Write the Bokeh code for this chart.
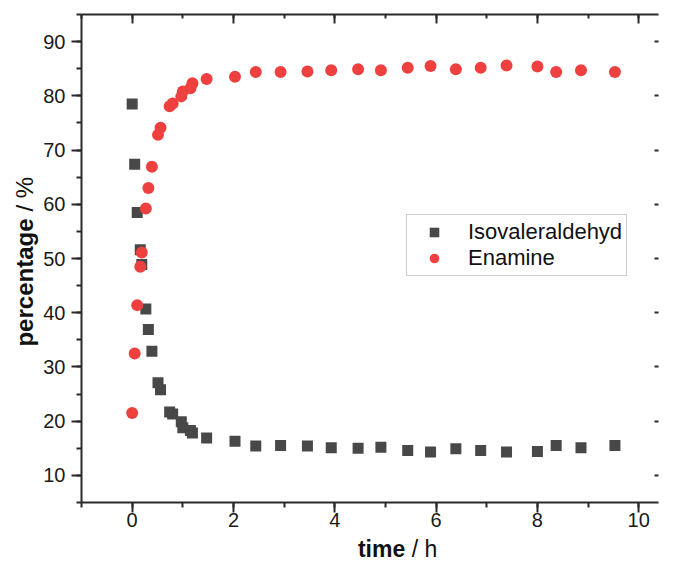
import math
from bokeh.plotting import figure
from bokeh.layouts import row, column
from bokeh.models import (Range1d, LinearAxis, SingleIntervalTicker, Label,
                          ColumnDataSource, Legend, LegendItem, CustomLabelingPolicy)
from bokeh.embed import file_html
from bokeh.resources import INLINE

# ---- data ----
time_h = [0.0, 0.05, 0.10, 0.16, 0.19, 0.27, 0.32, 0.39, 0.51, 0.56, 0.74, 0.80,
          0.97, 1.00, 1.15, 1.19, 1.47, 2.03, 2.44, 2.93, 3.46, 3.93, 4.46, 4.91,
          5.44, 5.89, 6.39, 6.88, 7.39, 8.00, 8.37, 8.86, 9.53]
isovaleraldehyd = [78.5, 67.4, 58.5, 51.6, 48.9, 40.7, 36.9, 32.9, 27.1, 25.8, 21.7, 21.3,
                   19.9, 18.8, 18.3, 17.8, 16.9, 16.3, 15.4, 15.5, 15.4, 15.1, 15.0, 15.2,
                   14.6, 14.3, 14.9, 14.6, 14.3, 14.4, 15.5, 15.1, 15.5]
enamine = [21.5, 32.5, 41.4, 48.5, 51.1, 59.2, 63.0, 66.9, 72.8, 74.1, 78.1, 78.6,
           79.9, 80.8, 81.4, 82.3, 83.1, 83.5, 84.4, 84.4, 84.5, 84.7, 84.9, 84.7,
           85.2, 85.5, 84.9, 85.2, 85.6, 85.4, 84.4, 84.7, 84.4]
series_names = ["Isovaleraldehyd", "Enamine"]
x_title_bold, x_title_rest = "time", "/ h"
y_title_bold, y_title_rest = "percentage", "/ %"

FONT = "Liberation Sans"
AX = "#2a2a2a"
TXT = "#111111"

YT_W = 40            # width of the strip holding the y title
MAIN_W, MAIN_H = 622, 535
XT_H = 27            # height of the strip holding the x title
TOTAL_H = MAIN_H + XT_H

p = figure(width=MAIN_W, height=MAIN_H, output_backend="svg", toolbar_location=None,
           x_range=Range1d(-1, 10.39), y_range=Range1d(5, 95),
           x_axis_location=None, y_axis_location=None,
           min_border_left=40, min_border_right=2, min_border_top=14,
           min_border_bottom=33)
p.outline_line_color = None
p.xgrid.visible = False
p.ygrid.visible = False
p.background_fill_color = "white"
p.border_fill_color = "white"

def make_axis(ticker, **kw):
    ax = LinearAxis(ticker=ticker)
    ax.axis_line_color = AX
    ax.axis_line_width = 2
    ax.major_tick_line_color = AX
    ax.minor_tick_line_color = AX
    ax.major_tick_line_width = 2
    ax.minor_tick_line_width = 2
    ax.major_label_text_font = FONT
    ax.major_label_text_font_size = "20px"
    ax.major_label_text_color = "#1a1a1a"
    for k, v in kw.items():
        setattr(ax, k, v)
    return ax

xt = lambda: SingleIntervalTicker(interval=2, num_minor_ticks=2)
yt = lambda: SingleIntervalTicker(interval=10, num_minor_ticks=2)
no_labels = lambda: CustomLabelingPolicy(code="return []")

bottom = make_axis(xt(), major_tick_out=10, major_tick_in=0,
                   minor_tick_out=5, minor_tick_in=0, major_label_standoff=0)
left = make_axis(yt(), major_tick_out=10, major_tick_in=0,
                 minor_tick_out=5, minor_tick_in=0, major_label_standoff=6)
top = make_axis(xt(), major_tick_out=0, major_tick_in=9,
                minor_tick_out=0, minor_tick_in=4, major_label_standoff=0,
                major_label_text_font_size="1px", major_label_policy=no_labels())
right = make_axis(yt(), major_tick_out=0, major_tick_in=4,
                  minor_tick_out=0, minor_tick_in=0, major_label_standoff=0,
                  major_label_text_font_size="1px", major_label_policy=no_labels(),
                  axis_line_color=None)
p.add_layout(bottom, "below")
p.add_layout(left, "left")
p.add_layout(top, "above")
p.add_layout(right, "right")

src = ColumnDataSource(dict(t=time_h, iso=isovaleraldehyd, ena=enamine))
r1 = p.scatter("t", "iso", source=src, marker="square", size=11,
               fill_color="#484848", line_color=None)
r2 = p.scatter("t", "ena", source=src, marker="circle", size=12,
               fill_color="#ef4040", line_color=None)

legend = Legend(items=[LegendItem(label=series_names[0], renderers=[r1]),
                       LegendItem(label=series_names[1], renderers=[r2])],
                location=(325, 226), orientation="vertical",
                label_text_font=FONT, label_text_font_size="22px",
                label_text_color=TXT,
                glyph_width=46, glyph_height=24, label_height=24,
                label_standoff=11, spacing=0, padding=4, margin=0,
                border_line_color="#9a9a9a", border_line_width=1,
                background_fill_color="white", background_fill_alpha=1)
p.add_layout(legend, "center")

def strip(w, h):
    f = figure(width=w, height=h, output_backend="svg", toolbar_location=None,
               x_range=Range1d(0, w), y_range=Range1d(0, h),
               x_axis_location=None, y_axis_location=None, min_border=0)
    f.outline_line_color = None
    f.xgrid.visible = False
    f.ygrid.visible = False
    f.background_fill_color = "white"
    f.border_fill_color = "white"
    return f

fs = "23px"
# x title strip (below the main plot)
xs = strip(MAIN_W, XT_H)
split_x = 389 - YT_W
xs.add_layout(Label(x=split_x, y=XT_H / 2, text=x_title_bold, text_font=FONT,
                    text_font_size=fs, text_font_style="bold", text_align="right",
                    text_baseline="middle", text_color=TXT))
xs.add_layout(Label(x=split_x + 7, y=XT_H / 2, text=x_title_rest, text_font=FONT,
                    text_font_size=fs, text_align="left",
                    text_baseline="middle", text_color=TXT))

# y title strip (left of the main plot)
ys = strip(YT_W, TOTAL_H)
split_y = TOTAL_H - 218
ys.add_layout(Label(x=24, y=split_y, angle=math.pi / 2, text=y_title_bold,
                    text_font=FONT, text_font_size="24px", text_font_style="bold",
                    text_align="right", text_baseline="middle", text_color=TXT))
ys.add_layout(Label(x=24, y=split_y + 7, angle=math.pi / 2, text=y_title_rest,
                    text_font=FONT, text_font_size="24px", text_align="left",
                    text_baseline="middle", text_color=TXT))

layout = row(ys, column(p, xs, spacing=0), spacing=0)
open("out.html", "w").write(file_html(layout, INLINE))
